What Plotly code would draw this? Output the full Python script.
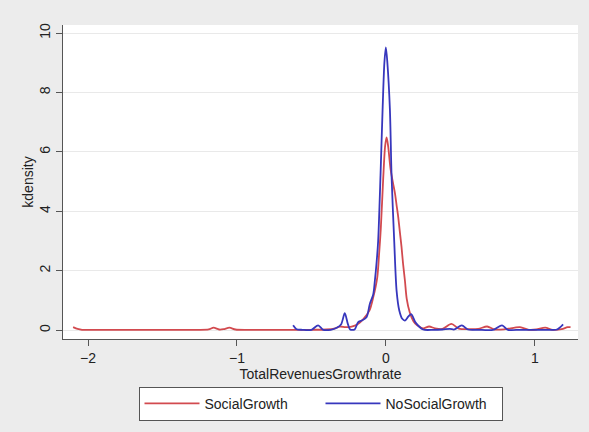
import plotly.graph_objects as go

# Kernel density of total revenue growth rate, by group
social_x = [-2.10, -2.07, -2.04, -1.90, -1.60, -1.30, -1.19, -1.157, -1.12, -1.09,
            -1.05, -1.01, -0.90, -0.70, -0.50, -0.40, -0.34, -0.31, -0.27, -0.23,
            -0.19, -0.15, -0.11, -0.085, -0.058, -0.045, -0.034, -0.018, -0.005, 0.005,
            0.015, 0.032, 0.048, 0.061, 0.072, 0.083, 0.094, 0.105, 0.115, 0.128,
            0.14, 0.16, 0.185, 0.21, 0.25, 0.29, 0.33, 0.38, 0.44, 0.49,
            0.55, 0.62, 0.68, 0.73, 0.80, 0.90, 0.96, 1.01, 1.07, 1.12,
            1.18, 1.22, 1.24]
social_y = [0.10, 0.04, 0.01, 0.01, 0.01, 0.01, 0.02, 0.08, 0.02, 0.03,
            0.08, 0.02, 0.01, 0.01, 0.01, 0.02, 0.06, 0.12, 0.10, 0.12,
            0.20, 0.38, 0.66, 1.10, 1.77, 2.60, 3.43, 5.10, 6.20, 6.49,
            6.20, 5.40, 4.95, 4.60, 4.20, 3.80, 3.30, 2.80, 2.25, 1.66,
            1.05, 0.60, 0.30, 0.16, 0.06, 0.12, 0.06, 0.04, 0.21, 0.05,
            0.03, 0.04, 0.12, 0.02, 0.03, 0.10, 0.01, 0.02, 0.08, 0.01,
            0.03, 0.10, 0.10]

nosocial_x = [-0.623, -0.60, -0.56, -0.50, -0.455, -0.42, -0.37, -0.33, -0.30, -0.276,
              -0.255, -0.24, -0.21, -0.186, -0.163, -0.13, -0.108, -0.085, -0.074, -0.062,
              -0.052, -0.036, -0.022, -0.010, 0.0, 0.010, 0.027, 0.038, 0.056, 0.072,
              0.09, 0.11, 0.128, 0.15, 0.17, 0.20, 0.25, 0.32, 0.38, 0.43,
              0.46, 0.51, 0.55, 0.62, 0.72, 0.78, 0.82, 0.90, 1.00, 1.10,
              1.15, 1.19]
nosocial_y = [0.16, 0.03, 0.01, 0.01, 0.16, 0.01, 0.01, 0.08, 0.20, 0.57,
              0.20, 0.02, 0.02, 0.27, 0.32, 0.43, 0.88, 1.20, 1.66, 2.30,
              2.99, 5.21, 7.43, 9.00, 9.52, 9.00, 7.43, 5.21, 2.99, 1.32,
              0.66, 0.38, 0.32, 0.45, 0.54, 0.25, 0.02, 0.01, 0.02, 0.04,
              0.02, 0.16, 0.02, 0.01, 0.01, 0.16, 0.01, 0.01, 0.01, 0.01,
              0.02, 0.19]

x_ticks = [-2, -1, 0, 1]
y_ticks = [0, 2, 4, 6, 8, 10]

RED = "#d24a4f"
BLUE = "#3737bd"

fig = go.Figure()
fig.add_trace(go.Scatter(x=social_x, y=social_y, mode="lines", name="SocialGrowth",
                         line=dict(color=RED, width=1.8, shape="spline", smoothing=0.8)))
fig.add_trace(go.Scatter(x=nosocial_x, y=nosocial_y, mode="lines", name="NoSocialGrowth",
                         line=dict(color=BLUE, width=1.8, shape="spline", smoothing=0.8)))

font_family = "Liberation Sans, Arial, sans-serif"

fig.update_layout(
    width=589, height=432,
    margin=dict(l=63, r=11, t=25, b=90),
    paper_bgcolor="#ececec",
    plot_bgcolor="#ffffff",
    font=dict(family=font_family, size=14, color="#222222"),
    showlegend=True,
    legend=dict(orientation="h", x=0.5, xanchor="center", y=-0.152, yanchor="top",
                bgcolor="#ffffff", bordercolor="#555555", borderwidth=1,
                font=dict(size=14, color="#222222"), itemwidth=55,
                entrywidth=111, traceorder="normal"),
    xaxis=dict(range=[-2.168, 1.29], tickvals=x_ticks, ticks="outside", ticklen=6,
               tickcolor="#555555", showline=True, linecolor="#555555", linewidth=1,
               showgrid=False, zeroline=False,
               title=dict(text="TotalRevenuesGrowthrate", standoff=2, font=dict(size=14)),
               tickfont=dict(size=14)),
    yaxis=dict(range=[-0.3, 10.27], tickvals=y_ticks, ticks="outside", ticklen=6,
               tickcolor="#555555", showline=True, linecolor="#555555", linewidth=1,
               showgrid=True, gridcolor="#e9e9e9", gridwidth=1, zeroline=False,
               tickangle=-90,
               title=dict(text="kdensity", standoff=0, font=dict(size=14)),
               tickfont=dict(size=14)),
)

fig.write_html("out.html")
